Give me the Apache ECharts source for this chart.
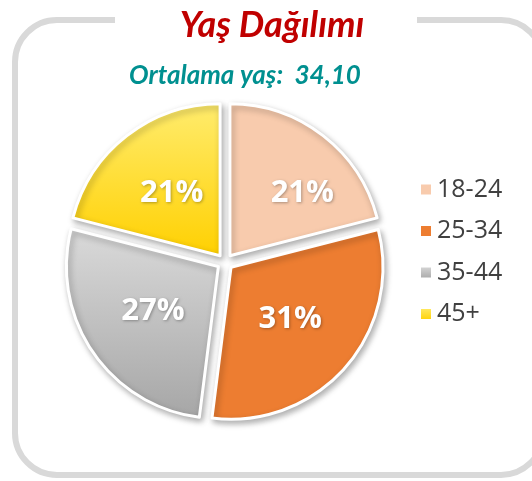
<!DOCTYPE html>
<html>
<head>
<meta charset="utf-8">
<script src="https://cdn.jsdelivr.net/npm/echarts@6/dist/echarts.min.js"></script>
<style>
  html, body { margin: 0; padding: 0; background: #fff; }
  #chart { width: 532px; height: 481px; }
</style>
</head>
<body>
<div id="chart"></div>
<script>
// yaş grupları ve yüzdeleri
const ageGroups = ['18-24', '25-34', '35-44', '45+']
const shares = [21, 31, 27, 21]
const sliceColors = [
  '#f8cbad',
  '#ed7d31',
  ['#dadada', '#a6a6a6'],
  ['#ffec6e', '#ffd000']
]

function fill(c) {
  if (typeof c === 'string') return c
  return new echarts.graphic.LinearGradient(0, 0, 0, 1, [
    { offset: 0, color: c[0] },
    { offset: 1, color: c[1] }
  ])
}

const pieCenter = [225, 262]
const pieRadius = 152

const chart = echarts.init(document.getElementById('chart'))

chart.setOption({
  animation: false,
  title: [{
    text: 'Yaş Dağılımı',
    left: 267,
    top: 2,
    textAlign: 'center',
    textStyle: { color: '#c00000', fontSize: 36, fontWeight: 'bold', fontStyle: 'italic', fontFamily: 'Lato' }
  }, {
    text: 'Ortalama yaş:  34,10',
    left: 240,
    top: 58,
    textAlign: 'center',
    textStyle: { color: '#009090', fontSize: 26, fontWeight: 'bold', fontStyle: 'italic', fontFamily: 'Lato' }
  }],
  graphic: [{
    type: 'rect',
    z: -10,
    shape: { x: 15, y: 20, width: 528, height: 455, r: 42 },
    style: { fill: 'none', stroke: '#d9d9d9', lineWidth: 6 }
  }, {
    type: 'rect',
    z: -9,
    shape: { x: 115, y: 10, width: 302, height: 20 },
    style: { fill: '#fff' }
  }],
  legend: {
    orient: 'vertical',
    left: 414,
    top: 172,
    itemWidth: 12,
    itemHeight: 12,
    itemGap: 16.5,
    icon: 'rect',
    textStyle: { fontSize: 25, color: '#404040', fontFamily: 'Open Sans' },
    data: ageGroups
  },
  series: [{
    type: 'pie',
    center: pieCenter,
    radius: [0, pieRadius],
    startAngle: 90,
    selectedMode: 'multiple',
    selectedOffset: 8,
    itemStyle: {
      borderColor: '#fff',
      borderWidth: 3,
      shadowBlur: 6,
      shadowOffsetX: 2,
      shadowOffsetY: 3,
      shadowColor: 'rgba(0,0,0,0.3)'
    },
    select: {
      itemStyle: { borderColor: '#fff', borderWidth: 3 }
    },
    emphasis: { scale: false },
    label: {
      position: 'inside',
      formatter: '{c}%',
      color: '#fff',
      fontSize: 31,
      fontWeight: 'bold',
      fontFamily: 'Open Sans',
      textShadowColor: 'rgba(0,0,0,0.3)',
      textShadowBlur: 3,
      textShadowOffsetX: 1,
      textShadowOffsetY: 1
    },
    labelLine: { show: false },
    data: ageGroups.map((name, i) => ({
      name: name,
      value: shares[i],
      selected: true,
      itemStyle: { color: fill(sliceColors[i]) },
      // ilk dilimin etiketi orijinalde sağa kaymış
      label: i === 0 ? { padding: [0, 0, 0, 48] } : undefined
    }))
  }]
})
</script>
</body>
</html>
